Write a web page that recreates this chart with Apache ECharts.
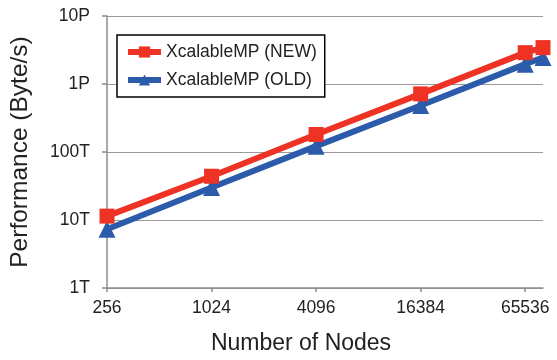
<!DOCTYPE html>
<html>
<head>
<meta charset="utf-8">
<script src="https://cdn.jsdelivr.net/npm/echarts@6/dist/echarts.min.js"></script>
<style>html,body{margin:0;padding:0;background:#fff}#c{width:557px;height:360px}</style>
</head>
<body>
<div id="c"></div>
<script>
// Number of nodes
const nodes = [256, 1024, 4096, 16384, 65536, 82944];
// Performance in TB/s (1 = 1T)
const perfNew = [11.4, 44, 181, 715, 2890, 3430];
const perfOld = [7.3, 30, 122, 482, 1960, 2450];
const xTicks = [256, 1024, 4096, 16384, 65536];
const yTicks = [1, 10, 100, 1000, 10000];
const yTickLabels = ['1T', '10T', '100T', '1P', '10P'];
const seriesNames = ['XcalableMP (NEW)', 'XcalableMP (OLD)'];

const font = 'Liberation Sans, Arial, sans-serif';
const chart = echarts.init(document.getElementById('c'), null, {renderer: 'canvas'});
chart.setOption({
  animation: false,
  backgroundColor: '#fff',
  textStyle: {fontFamily: font},
  grid: {left: 105, right: 14, top: 16, bottom: 71, containLabel: false},
  legend: {
    orient: 'vertical', left: 117, top: 35,
    backgroundColor: '#fff', borderColor: '#000', borderWidth: 1.5,
    padding: [8, 8, 8, 8], itemGap: 10, itemWidth: 33, itemHeight: 14,
    lineStyle: {width: 6},
    textStyle: {fontSize: 17.5, color: '#222', fontFamily: font},
    data: seriesNames
  },
  xAxis: {
    type: 'log', logBase: 4, min: 256, max: 82944,
    name: 'Number of Nodes', nameLocation: 'middle', nameGap: 44,
    nameTextStyle: {fontSize: 23, color: '#222', fontFamily: font, padding: [0, 48, 0, 0]},
    axisLine: {lineStyle: {color: '#8c8c8c', width: 1.5}},
    axisTick: {show: true, length: 4, lineStyle: {color: '#8c8c8c', width: 1.5}, customValues: xTicks},
    axisLabel: {fontSize: 17.5, color: '#222', margin: 11, fontFamily: font, customValues: xTicks,
      formatter: v => String(Math.round(v))},
    splitLine: {show: false},
    minorTick: {show: false}
  },
  yAxis: {
    type: 'log', logBase: 10, min: 1, max: 10000, interval: 1,
    name: 'Performance (Byte/s)', nameLocation: 'middle', nameGap: 74,
    nameTextStyle: {fontSize: 24.5, color: '#222', fontFamily: font},
    axisLine: {show: true, lineStyle: {color: '#8c8c8c', width: 1.5}},
    axisTick: {show: true, length: 5, lineStyle: {color: '#8c8c8c', width: 1.5}},
    axisLabel: {fontSize: 17.5, color: '#222', margin: 17, fontFamily: font,
      formatter: v => {
        const i = yTicks.indexOf(Math.round(v));
        return i >= 0 ? yTickLabels[i] : '';
      }},
    splitLine: {show: true, lineStyle: {color: '#9a9a9a', width: 1.2}}
  },
  series: [
    {
      name: seriesNames[0], type: 'line', z: 3,
      data: nodes.map((n, i) => [n, perfNew[i]]),
      symbol: 'rect', symbolSize: 15,
      lineStyle: {color: '#EE3224', width: 6},
      itemStyle: {color: '#EE3224'}
    },
    {
      name: seriesNames[1], type: 'line', z: 2,
      data: nodes.map((n, i) => [n, perfOld[i]]),
      symbol: 'triangle', symbolSize: 17,
      lineStyle: {color: '#2B5BAA', width: 6},
      itemStyle: {color: '#2B5BAA'}
    }
  ]
});
</script>
</body>
</html>
